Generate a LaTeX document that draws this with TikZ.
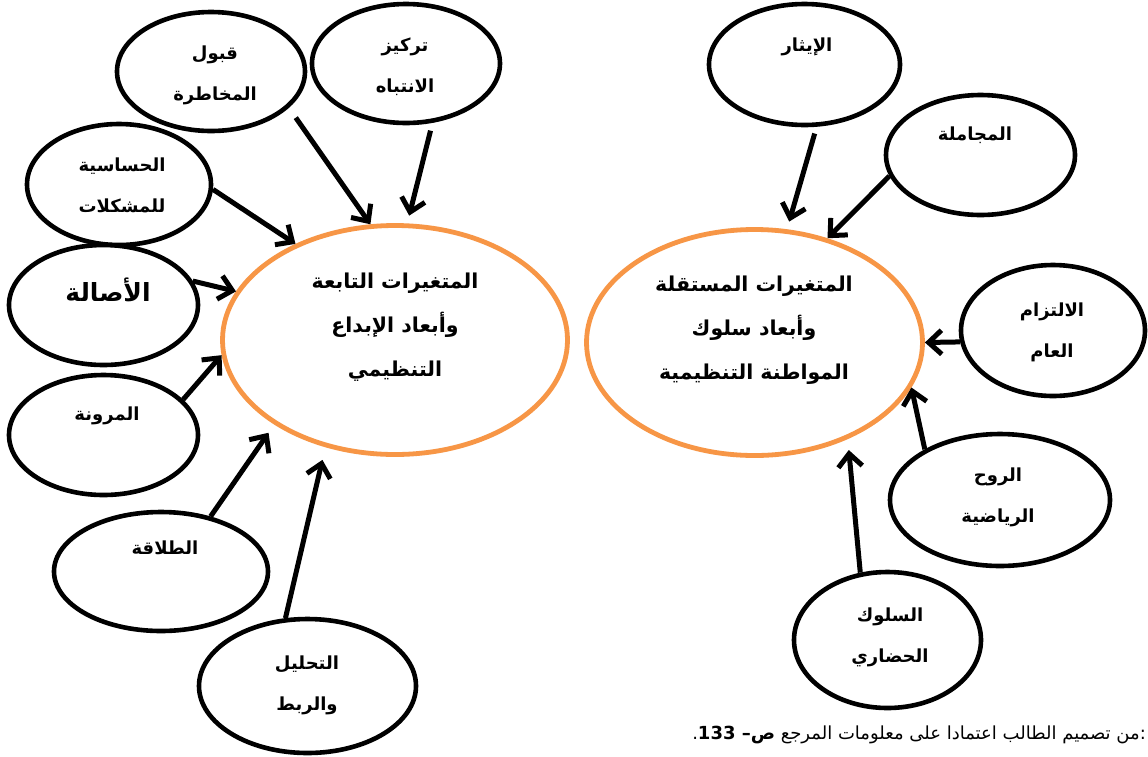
\documentclass[tikz,border=0pt]{standalone}
\usepackage{fontspec}
\usetikzlibrary{shapes.geometric,arrows.meta}
\newfontfamily\arabicfont[Script=Arabic]{DejaVu Sans}
\TeXXeTstate=1
\definecolor{orng}{HTML}{F79646}
\begin{document}
\begin{tikzpicture}[x=1pt,y=-1pt,
  small/.style={draw=black, line width=4.6pt, ellipse, inner sep=0pt},
  big/.style={draw=orng, line width=4.8pt, ellipse, inner sep=0pt},
  lbl/.style={font=\arabicfont\bfseries\fontsize{18}{41}\selectfont, align=center, inner sep=0pt},
  biglbl/.style={font=\arabicfont\bfseries\fontsize{20.5}{44}\selectfont, align=center, inner sep=0pt},
  caplbl/.style={font=\arabicfont\fontsize{18}{20}\selectfont, inner sep=0pt},
  arr/.style={line width=5pt, -{Straight Barb[length=13pt,width=24pt]}}
]
\useasboundingbox (0,0) rectangle (1148,756);
\fill[white] (0,0) rectangle (1148,756);
% big ellipses
\node[big, minimum width=345pt, minimum height=229pt] (BL) at (395,340) {};
\node[big, minimum width=336pt, minimum height=226pt] (BR) at (754.5,342.5) {};
% left small ellipses
\node[small, minimum width=188pt, minimum height=119pt] (qabul) at (211,71.5) {};
\node[small, minimum width=188pt, minimum height=119pt] (tarkiz) at (406,63.5) {};
\node[small, minimum width=184pt, minimum height=121pt] (hass) at (119,184.5) {};
\node[small, minimum width=189pt, minimum height=120pt] (asala) at (103.5,305) {};
\node[small, minimum width=189pt, minimum height=120pt] (muruna) at (103.5,435) {};
\node[small, minimum width=214pt, minimum height=119pt] (talaqa) at (161,571.5) {};
\node[small, minimum width=217pt, minimum height=134pt] (tahlil) at (307.5,686) {};
% right small ellipses
\node[small, minimum width=191pt, minimum height=121pt] (ithar) at (804.5,64.5) {};
\node[small, minimum width=189pt, minimum height=120pt] (mujamala) at (980.5,155) {};
\node[small, minimum width=184pt, minimum height=131pt] (iltizam) at (1053,330.5) {};
\node[small, minimum width=220pt, minimum height=132pt] (ruh) at (1000,500) {};
\node[small, minimum width=187pt, minimum height=136pt] (suluk) at (887.5,640) {};
% labels
\node[biglbl] (BLt) at (395,327) {\beginR المتغيرات التابعة\endR\\\beginR وأبعاد الإبداع\endR\\\beginR التنظيمي\endR};
\node[biglbl] (BRt) at (754,330) {\beginR المتغيرات المستقلة\endR\\\beginR وأبعاد سلوك\endR\\\beginR المواطنة التنظيمية\endR};
\node[lbl] (qabulT) at (215,75) {\beginR قبول\endR\\\beginR المخاطرة\endR};
\node[lbl] (tarkizT) at (405,67) {\beginR تركيز\endR\\\beginR الانتباه\endR};
\node[lbl] (hassT) at (122,185) {\beginR الحساسية\endR\\\beginR للمشكلات\endR};
\node[lbl, font=\arabicfont\bfseries\fontsize{25}{41}\selectfont] (asalaT) at (108,290) {\beginR الأصالة\endR};
\node[lbl] (murunaT) at (107,416) {\beginR المرونة\endR};
\node[lbl] (talaqaT) at (165,548) {\beginR الطلاقة\endR};
\node[lbl] (tahlilT) at (307,685) {\beginR التحليل\endR\\\beginR والربط\endR};
\node[lbl] (itharT) at (807,47) {\beginR الإيثار\endR};
\node[lbl] (mujamalaT) at (975,135) {\beginR المجاملة\endR};
\node[lbl] (iltizamT) at (1052,332) {\beginR الالتزام\endR\\\beginR العام\endR};
\node[lbl] (ruhT) at (998,497) {\beginR الروح\endR\\\beginR الرياضية\endR};
\node[lbl] (sulukT) at (890,637) {\beginR السلوك\endR\\\beginR الحضاري\endR};
% caption
\node[caplbl, anchor=east] (cap) at (1146,735) {\beginR :من تصميم الطالب اعتمادا على معلومات المرجع \textbf{ص– \beginL 133\endL}.\endR};
% arrows
\draw[arr, shorten <=12pt] (qabul.-25) -- (BL.102);
\draw[arr, shorten <=8pt, shorten >=8pt] (tarkiz.-66) -- (BL.84);
\draw[arr] (hass.-3.5) -- (BL.136.5);
\draw[arr] (asala.15) -- (BL.163);
\draw[arr] (muruna.24) -- (BL.185.6);
\draw[arr, shorten >=10pt] (talaqa.48) -- (BL.215);
\draw[arr, shorten >=13pt] (tahlil.108) -- (BL.237);
\draw[arr, shorten <=7pt, shorten >=8pt] (ithar.-79) -- (BR.74);
\draw[arr] (mujamala.193) -- (BR.55);
\draw[arr] (iltizam.187) -- (BR.-0.3);
\draw[arr] (ruh.146.5) -- (BR.-16);
\draw[arr, shorten >=11pt] (suluk.112.6) -- (BR.-46);
\end{tikzpicture}
\end{document}
